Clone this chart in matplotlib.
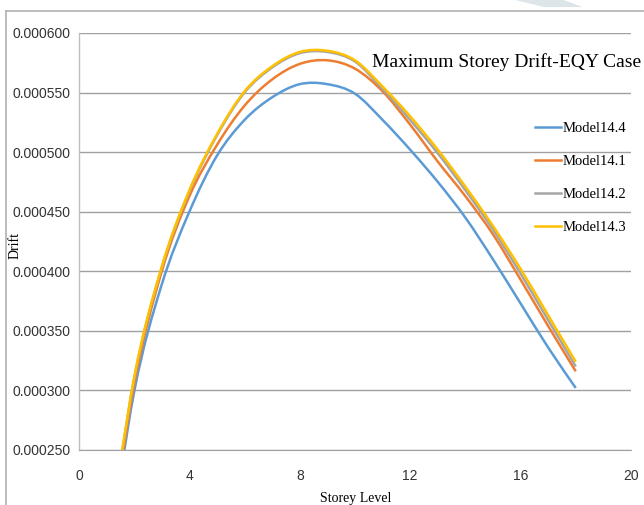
import numpy as np
import matplotlib
matplotlib.use("Agg")
from matplotlib import pyplot as plt
from matplotlib.path import Path
from matplotlib.patches import PathPatch, Polygon
from matplotlib.lines import Line2D

# storey levels and drift values
storey = [1, 2, 3, 4, 5, 6, 7, 8, 9, 10, 11, 12, 13, 14, 15, 16, 17, 18]
model_14_4 = [0.000150, 0.000299, 0.000389, 0.000450, 0.000497, 0.000527, 0.000546, 0.000557,
              0.000557, 0.000549, 0.000527, 0.000502, 0.000475, 0.000445, 0.000410, 0.000373,
              0.000336, 0.000302]
model_14_1 = [0.000155, 0.000305, 0.000400, 0.000463, 0.000506, 0.000539, 0.000561, 0.000574,
              0.000577, 0.000570, 0.000551, 0.000523, 0.000492, 0.000463, 0.000431, 0.000393,
              0.000354, 0.000316]
model_14_2 = [0.000160, 0.000310, 0.000403, 0.000467, 0.000514, 0.000550, 0.000571, 0.000583,
              0.000584, 0.000576, 0.000553, 0.000527, 0.000499, 0.000468, 0.000435, 0.000398,
              0.000359, 0.000320]
model_14_3 = [0.000160, 0.000311, 0.000404, 0.000468, 0.000515, 0.000551, 0.000572, 0.000584,
              0.000585, 0.000577, 0.000555, 0.000530, 0.000502, 0.000471, 0.000438, 0.000402,
              0.000363, 0.000324]

labels = ["Model14.4", "Model14.1", "Model14.2", "Model14.3"]
colors = ["#5B9BD5", "#ED7D31", "#A5A5A5", "#FFC000"]
x_ticks = [0, 4, 8, 12, 16, 20]
y_ticks = [0.00025, 0.0003, 0.00035, 0.0004, 0.00045, 0.0005, 0.00055, 0.0006]


def smooth_path(xs, ys):
    # excel-like smoothed line: catmull-rom segments as cubic bezier curves
    xs = np.asarray(xs, float)
    ys = np.asarray(ys, float)
    verts = [(xs[0], ys[0])]
    codes = [Path.MOVETO]
    n = len(xs)
    for i in range(n - 1):
        p0 = (xs[max(i - 1, 0)], ys[max(i - 1, 0)])
        p1 = (xs[i], ys[i])
        p2 = (xs[i + 1], ys[i + 1])
        p3 = (xs[min(i + 2, n - 1)], ys[min(i + 2, n - 1)])
        c1 = (p1[0] + (p2[0] - p0[0]) / 6, p1[1] + (p2[1] - p0[1]) / 6)
        c2 = (p2[0] - (p3[0] - p1[0]) / 6, p2[1] - (p3[1] - p1[1]) / 6)
        verts += [c1, c2, p2]
        codes += [Path.CURVE4] * 3
    return Path(verts, codes)


fig = plt.figure(figsize=(6.44, 5.05), dpi=100)
ax = fig.add_axes([0.1227, 0.109, 0.857, 0.8258])

series = [model_14_4, model_14_1, model_14_2, model_14_3]
for vals, lab, col in zip(series, labels, colors):
    patch = PathPatch(smooth_path(storey, vals), fill=False, edgecolor=col, lw=1.8,
                      capstyle="butt", zorder=3)
    ax.add_patch(patch)
    ax.plot([], [], color=col, lw=1.8, label=lab)

ax.set_xlim(0, 20)
ax.set_ylim(0.00025, 0.0006)
ax.set_xticks(x_ticks)
ax.set_yticks(y_ticks)
ax.set_yticklabels(["%.6f" % v for v in y_ticks], fontsize=10, family="Liberation Sans", color="#333333")
ax.set_xticklabels([str(v) for v in x_ticks], fontsize=10, family="Liberation Sans", color="#333333")
ax.tick_params(length=0, pad=6)
ax.tick_params(axis="x", pad=14)
ax.grid(axis="y", color="#A0A0A0", lw=1)
ax.set_axisbelow(True)
for s in ["top", "right"]:
    ax.spines[s].set_visible(False)
ax.spines["left"].set_color("#BFBFBF")
ax.spines["bottom"].set_color("#A0A0A0")
ax.spines["left"].set_linewidth(1)

fig.text(0.024, 0.513, "Drift", rotation=90, family="Liberation Serif", fontsize=10,
         ha="center", va="center")
fig.text(0.553, 0.012, "Storey Level", family="Liberation Serif", fontsize=10,
         ha="center", va="center")

fig.text(0.578, 0.877, "Maximum Storey Drift-EQY Case", family="Liberation Serif",
         fontsize=14, ha="left", va="center")

leg = ax.legend(loc="upper left", bbox_to_anchor=(0.815, 0.80), frameon=False,
                prop={"family": "Liberation Serif", "size": 10.5}, handlelength=1.8,
                handletextpad=0.1, labelspacing=1.35, borderaxespad=0)

# outer frame of the original figure
fig.add_artist(Line2D([0.0093, 0.0093], [0, 0.978], color="#B0B0B0", lw=1.2))
fig.add_artist(Line2D([0.0093, 1.0], [0.978, 0.978], color="#B0B0B0", lw=1.2))
fig.add_artist(Polygon([[0.80, 1.0], [0.875, 1.0], [0.905, 0.986], [0.845, 0.986]],
                       closed=True, color="#DDE5E9", lw=0, transform=fig.transFigure))

fig.savefig("out.png", dpi=100)
